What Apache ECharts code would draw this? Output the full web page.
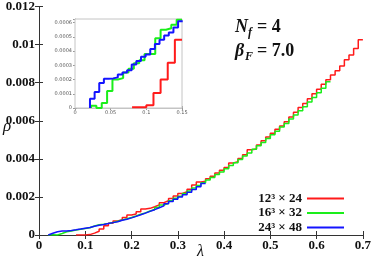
<!DOCTYPE html>
<html><head><meta charset="utf-8">
<script src="https://cdn.jsdelivr.net/npm/echarts@6/dist/echarts.min.js"></script>
<style>html,body{margin:0;padding:0;background:#fff}#c{width:374px;height:260px}</style>
</head><body><div id="c"></div>
<script>
// ---- data ----
const seriesNames = ['12³ × 24', '16³ × 32', '24³ × 48'];
const seriesColors = ['#ff1a1a', '#1aee1a', '#1414ff'];
// main plot: rho in units of 1e-3, bins of width 0.01 starting at the given lambda
const mainUnit = 1e-3;
const mainBin = 0.01;
const redStart = 0.08;
const redMain = [0.005,0.005,0.02,0.10,0.20,0.32,0.48,0.62,0.74,0.80,0.92,1.05,1.10,1.22,1.36,1.40,1.48,1.58,1.70,1.80,1.92,2.05,2.18,2.28,2.40,2.62,2.78,2.82,2.95,3.08,3.25,3.40,3.55,3.78,3.85,4.02,4.22,4.48,4.52,4.72,4.95,5.15,5.35,5.55,5.72,5.95,6.20,6.45,6.70,6.90,7.15,7.42,7.65,7.92,8.15,8.40,8.62,8.88,9.20,9.45,9.80,10.25];
const greenStart = 0.02;
const greenMain = [0.015,0.0,0.08,0.17,0.21,0.26,0.30,0.34,0.38,0.47,0.54,0.57,0.61,0.66,0.72,0.79,0.85,0.92,1.00,1.09,1.16,1.26,1.34,1.45,1.57,1.67,1.80,1.93,2.04,2.18,2.31,2.47,2.60,2.74,2.89,3.02,3.18,3.31,3.48,3.65,3.79,3.97,4.15,4.31,4.50,4.69,4.86,5.07,5.26,5.45,5.67,5.86,6.09,6.30,6.53,6.74,6.99,7.22,7.47,7.71,8.05];
const blueStart = 0.02;
const blueMain = [0.09,0.17,0.205,0.215,0.24,0.27,0.31,0.36,0.39,0.46,0.51,0.55,0.60,0.65,0.70,0.77,0.83,0.90,0.98,1.06,1.15,1.24,1.33,1.43,1.53,1.64,1.76,1.88,2.00,2.12,2.25,2.39,2.53,2.70];
// inset: rho in units of 1e-4
const insetUnit = 1e-4;
const redInsetStart = 0.08,  redInsetBin = 0.01;
const redInset = [0.05,0.05,0.2,1.05,2.0,3.17,4.8];
const greenInsetStart = 0.0225, greenInsetBin = 0.0075;
const greenInset = [0.15,0,0.35,1.2,2.0,2.1,2.5,2.75,3.15,3.35,3.8,3.8,4.9,5.5,5.6,5.85,6.2];
const blueInsetStart = 0.021, blueInsetBin = 0.0065;
const blueInset = [0.65,1.12,1.75,2.05,2.08,2.15,2.35,2.5,2.65,3.05,3.3,3.6,3.75,4.15,4.5,4.8,5.1,5.3,5.65,6.1];
const mainXTicks = {min: 0, max: 0.7, interval: 0.1};
const mainYTicks = {min: 0, max: 0.012, interval: 0.002};
const insetXTicks = {min: 0, max: 0.15, interval: 0.05};
const insetYTicks = {min: 0, max: 0.000625, interval: 0.0001};

function steps(start, bin, vals, unit, fromZero) {
  const pts = [];
  if (fromZero) pts.push([start, 0]);
  vals.forEach((v, i) => pts.push([+(start + i * bin).toFixed(5), v * unit]));
  pts.push([+(start + vals.length * bin).toFixed(5), vals[vals.length - 1] * unit]);
  return pts;
}

const serif = '"Liberation Serif","DejaVu Serif",serif';
const chart = echarts.init(document.getElementById('c'), null, {renderer: 'canvas'});
const mainAxisCol = '#333';
const insetCol = '#c4c4c4';
function mainX(pos, labels) {
  return {type: 'value', gridIndex: 0, position: pos, ...mainXTicks,
    axisLine: {show: true, lineStyle: {color: mainAxisCol, width: 1}},
    axisTick: {show: true, inside: true, length: 4, lineStyle: {color: mainAxisCol}},
    splitLine: {show: false},
    axisLabel: {show: labels, margin: 4, color: '#111', fontFamily: serif, fontWeight: 'bold', fontSize: 13}};
}
function mainY(pos, labels) {
  return {type: 'value', gridIndex: 0, position: pos, ...mainYTicks,
    axisLine: {show: true, lineStyle: {color: mainAxisCol, width: 1}},
    axisTick: {show: true, inside: true, length: 4, lineStyle: {color: mainAxisCol}},
    splitLine: {show: false},
    axisLabel: {show: labels, margin: 4, color: '#111', fontFamily: serif, fontWeight: 'bold', fontSize: 13}};
}
function insetX(pos, labels) {
  return {type: 'value', gridIndex: 1, position: pos, ...insetXTicks,
    axisLine: {show: true, lineStyle: {color: insetCol, width: 1}},
    axisTick: {show: true, inside: true, length: 2, lineStyle: {color: '#999'}},
    splitLine: {show: false},
    axisLabel: {show: labels, margin: 2, color: '#555', fontFamily: 'DejaVu Sans', fontSize: 5}};
}
function insetY(pos, labels) {
  return {type: 'value', gridIndex: 1, position: pos, ...insetYTicks,
    axisLine: {show: true, lineStyle: {color: insetCol, width: 1}},
    axisTick: {show: true, inside: true, length: 2, lineStyle: {color: '#999'}},
    splitLine: {show: false},
    axisLabel: {show: labels, margin: 3, color: '#555', fontFamily: 'DejaVu Sans', fontSize: 5, showMaxLabel: false}};
}
function line(name, data, color, xi, yi, w) {
  return {type: 'line', name, data, xAxisIndex: xi, yAxisIndex: yi, step: 'end',
    symbol: 'none', showSymbol: false, clip: true, z: 3,
    lineStyle: {color, width: w}, itemStyle: {color}};
}

const option = {
  animation: false,
  backgroundColor: '#fff',
  grid: [
    {left: 39, top: 5, width: 326, height: 230, containLabel: false},
    {left: 75, top: 19, width: 107, height: 89, show: true, backgroundColor: '#fff', borderColor: insetCol, borderWidth: 1, z: 4}
  ],
  xAxis: [mainX('bottom', true), mainX('top', false), insetX('bottom', true), insetX('top', false)],
  yAxis: [mainY('left', true), mainY('right', false), insetY('left', true), insetY('right', false)],
  legend: {
    data: seriesNames, orient: 'vertical', align: 'right', right: 25, top: 187,
    itemWidth: 37, itemHeight: 2, itemGap: 1.5, icon: 'rect',
    textStyle: {fontFamily: serif, fontWeight: 'bold', fontSize: 13, color: '#111', lineHeight: 12}
  },
  series: [
    line(seriesNames[0], steps(redStart, mainBin, redMain, mainUnit, false), seriesColors[0], 0, 0, 1.5),
    line(seriesNames[1], steps(greenStart, mainBin, greenMain, mainUnit, true), seriesColors[1], 0, 0, 1.5),
    line(seriesNames[2], steps(blueStart, mainBin, blueMain, mainUnit, true), seriesColors[2], 0, 0, 1.5),
    {...line('inset red', steps(redInsetStart, redInsetBin, redInset, insetUnit, false), seriesColors[0], 2, 2, 2), z: 6},
    {...line('inset green', steps(greenInsetStart, greenInsetBin, greenInset, insetUnit, true), seriesColors[1], 2, 2, 2), z: 6},
    {...line('inset blue', steps(blueInsetStart, blueInsetBin, blueInset, insetUnit, true), seriesColors[2], 2, 2, 2), z: 7}
  ],
  graphic: [
    {type: 'text', left: 3, top: 118, style: {text: 'ρ', font: 'italic 17px ' + serif, fill: '#111'}},
    {type: 'text', left: 197, top: 244, style: {text: 'λ', font: 'italic 16px ' + serif, fill: '#111'}},
    {type: 'text', left: 235, top: 18, style: {text: 'N', font: 'italic bold 18px ' + serif, fill: '#111'}},
    {type: 'text', left: 248, top: 27, style: {text: 'f', font: 'italic bold 12px ' + serif, fill: '#111'}},
    {type: 'text', left: 257, top: 18, style: {text: '= 4', font: 'bold 18px ' + serif, fill: '#111'}},
    {type: 'text', left: 235, top: 42, style: {text: 'β', font: 'italic bold 18px ' + serif, fill: '#111'}},
    {type: 'text', left: 245, top: 51, style: {text: 'F', font: 'italic bold 12px ' + serif, fill: '#111'}},
    {type: 'text', left: 257, top: 42, style: {text: '= 7.0', font: 'bold 18px ' + serif, fill: '#111'}}
  ]
};
chart.setOption(option);
</script></body></html>
